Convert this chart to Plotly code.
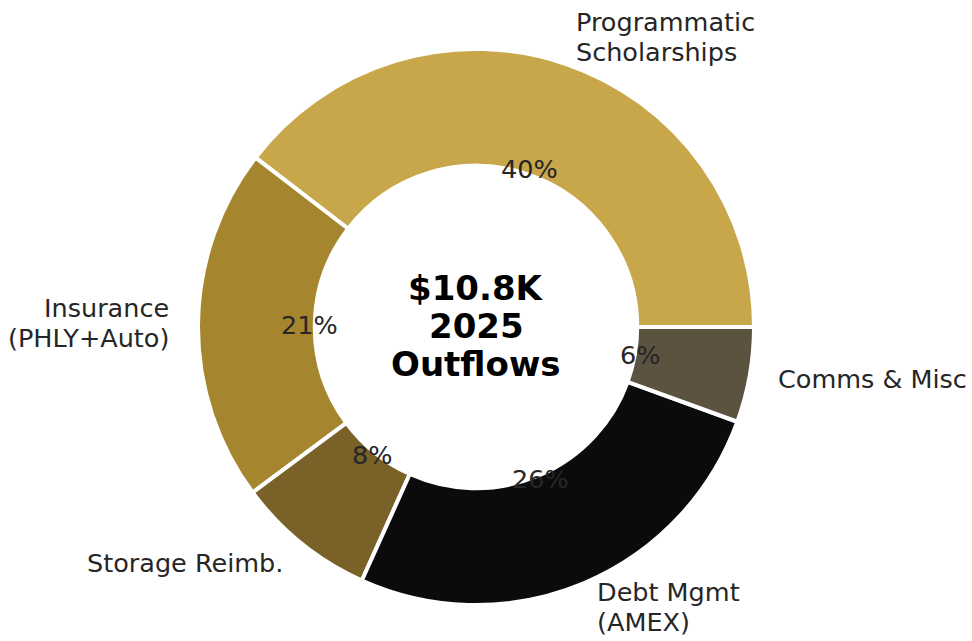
import math
import plotly.graph_objects as go

# 2025 outflow breakdown (USD)
categories = ["Programmatic\nScholarships", "Insurance\n(PHLY+Auto)", "Storage Reimb.",
              "Debt Mgmt\n(AMEX)", "Comms & Misc"]
amounts = [4290, 2230, 880, 2840, 600]
colors = ["#C8A64A", "#A6852F", "#7A6127", "#0B0B0B", "#5C5240"]
center_lines = ["$10.8K", "2025", "Outflows"]

W, H = 972, 641
CX, CY = 476, 327                  # donut centre (px)
R_TEXT = 277                       # radius used to place labels (px)
R_PIE = 278                        # drawn outer radius (px)
HOLE = 0.58
TEXT_COLOR = "#262626"
FONT = "DejaVu Sans"
LABEL_SIZE = 25.5
CENTER_SIZE = 34

total = sum(amounts)


def px_to_paper(x, y):
    return x / W, 1 - y / H


# plotly places the first slice clockwise from `rotation`; shift it so the
# first wedge starts at 3 o'clock and the rest run counterclockwise
first_rotation = 90 - 360 * amounts[0] / total

fig = go.Figure(go.Pie(
    values=amounts,
    labels=[c.replace("\n", " ") for c in categories],
    marker=dict(colors=colors, line=dict(color="white", width=4)),
    hole=HOLE,
    sort=False,
    direction="counterclockwise",
    rotation=first_rotation,
    textinfo="none",
    hoverinfo="label+value+percent",
    showlegend=False,
    domain=dict(x=[(CX - R_PIE) / W, (CX + R_PIE) / W],
                y=[1 - (CY + R_PIE) / H, 1 - (CY - R_PIE) / H]),
))

annotations = []


def add_lines(lines, x, y, xanchor, size, spacing, bold=False):
    n = len(lines)
    for i, line in enumerate(lines):
        ly = y + (i - (n - 1) / 2) * spacing
        px, py = px_to_paper(x, ly)
        annotations.append(dict(
            text=f"<b>{line}</b>" if bold else line,
            x=px, y=py, xref="paper", yref="paper",
            xanchor=xanchor, yanchor="middle", showarrow=False,
            font=dict(family=FONT, size=size, color="#000000" if bold else TEXT_COLOR),
            align=xanchor if xanchor != "center" else "center",
        ))


start = 0.0
for cat, val in zip(categories, amounts):
    frac = val / total
    mid = math.radians((start + frac / 2) * 360)
    start += frac
    cos_m, sin_m = math.cos(mid), math.sin(mid)
    # category label just outside the ring
    lx, ly = CX + 1.1 * R_TEXT * cos_m, CY - 1.1 * R_TEXT * sin_m - 1
    add_lines(cat.split("\n"), lx, ly, "left" if cos_m > 0 else "right", LABEL_SIZE, 30)
    # percentage inside the ring
    qx, qy = CX + 0.6 * R_TEXT * cos_m, CY - 0.6 * R_TEXT * sin_m - 1
    add_lines([f"{frac * 100:.0f}%"], qx, qy, "center", LABEL_SIZE, 30)

add_lines(center_lines, CX, CY - 1, "center", CENTER_SIZE, 38, bold=True)

fig.update_layout(
    width=W, height=H,
    margin=dict(l=0, r=0, t=0, b=0),
    paper_bgcolor="white",
    plot_bgcolor="white",
    annotations=annotations,
)

fig.write_html("out.html")
